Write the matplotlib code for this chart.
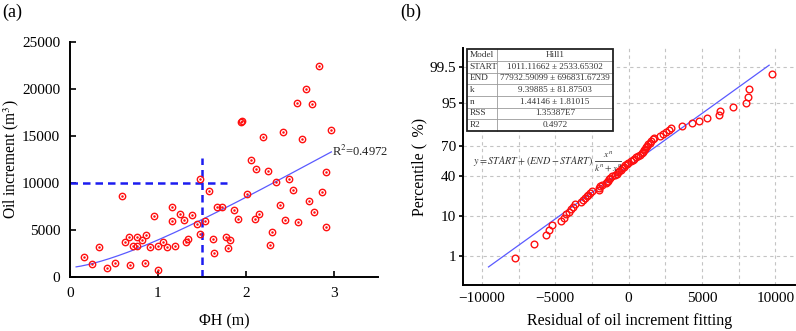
from statistics import NormalDist
import numpy as np
import matplotlib.pyplot as plt
from matplotlib.patches import Rectangle

plt.rcParams['font.family'] = ['Liberation Serif', 'DejaVu Serif']
plt.rcParams['mathtext.fontset'] = 'stix'

# %%
# panel (a): PhiH vs oil increment
phi_h = [0.158, 0.245, 0.332, 0.419, 0.509, 0.592, 0.623, 0.672, 0.679, 0.717,
         0.766, 0.766, 0.815, 0.860, 0.853, 0.906, 0.958, 1.000, 0.996, 1.057,
         1.102, 1.155, 1.155, 1.196, 1.245, 1.291, 1.313, 1.343, 1.389, 1.438,
         1.472, 1.483, 1.532, 1.577, 1.623, 1.634, 1.675, 1.725, 1.774, 1.819,
         1.796, 1.864, 1.909, 1.947, 1.958, 2.008, 2.057, 2.106, 2.113, 2.151,
         2.196, 2.249, 2.268, 2.294, 2.340, 2.381, 2.426, 2.438, 2.483, 2.536,
         2.581, 2.589, 2.634, 2.679, 2.721, 2.751, 2.774, 2.826, 2.868, 2.906,
         2.906, 2.962]
oil_inc = [2130, 1350, 3190, 990, 1520, 8650, 3690, 4290, 1310, 3300,
           4220, 3300, 3970, 4500, 1450, 3160, 6450, 3330, 710, 3690,
           3230, 7480, 5990, 3260, 6700, 6100, 3720, 4010, 6630, 5670,
           10390, 4540, 5990, 9150, 4080, 2550, 7480, 7410, 4290, 3940,
           3050, 7090, 6170, 16420, 16600, 8870, 12450, 6170, 11450, 6740,
           14860, 11280, 3400, 4750, 10110, 7700, 15430, 6060, 10460, 9290,
           18480, 5850, 14610, 19960, 8120, 18330, 6950, 22410, 9080, 11130,
           5320, 15600]

# Hill1 fit parameters (from the table)
fit_start = 1011.11662
fit_end = 77932.59099
fit_k = 9.39885
fit_n = 1.44146
fit_xmin, fit_xmax = 0.07, 2.97

# %%
# panel (b): sorted residuals for the normal probability plot
residuals = [-7770, -6450, -5650, -5450, -5240, -4610, -4430, -4280, -4100, -3950,
             -3800, -3670, -3240, -3120, -3000, -2870, -2760, -2640, -2510, -2050,
             -1990, -1920, -1850, -1560, -1500, -1440, -1370, -1250, -1140, -900,
             -800, -720, -630, -540, -440, -340, -220, -120, -20, 150,
             280, 380, 520, 640, 780, 880, 950, 1020, 1100, 1180,
             1270, 1350, 1420, 1500, 1650, 1750, 2150, 2350, 2560, 2730,
             2860, 3620, 4300, 4810, 5320, 6150, 6200, 7090, 7970, 8100,
             8230, 9750]
line_x = [-9550, 9570]
line_sigma = 3660.0
pct_ticks = [1, 10, 40, 70, 95, 99.5]

table_rows = [('Model', 'Hill1'),
              ('START', '1011.11662 \u00b1 2533.65302'),
              ('END', '77932.59099 \u00b1 696831.67239'),
              ('k', '9.39885 \u00b1 81.87503'),
              ('n', '1.44146 \u00b1 1.81015'),
              ('RSS', '1.35387E7'),
              ('R2', '0.4972')]

# %%
fig = plt.figure(figsize=(7.96, 3.31), dpi=100)

ax1 = fig.add_axes([0.0879, 0.1631, 0.387, 0.7109])
ax1.plot(phi_h, oil_inc, 'o', ms=4.6, mfc='none', mec='#ff1010', mew=1.0, zorder=3)
ax1.plot(phi_h, oil_inc, '.', ms=1.6, color='#ff1010', zorder=3)

xf = np.linspace(fit_xmin, fit_xmax, 200)
yf = fit_start + (fit_end - fit_start) * xf**fit_n / (fit_k**fit_n + xf**fit_n)
ax1.plot(xf, yf, color='#5a5aff', lw=0.9, zorder=2)

ax1.plot([0, 1.78], [10000, 10000], color='#1c1cf0', lw=1.8, ls=(0, (3, 2)))
ax1.plot([1.5, 1.5], [0, 12600], color='#1c1cf0', lw=1.8, ls=(0, (3, 2)))
ax1.text(2.98, 13300, 'R$^2$=0.4972', fontsize=9, va='center', ha='left', color='#222222')

ax1.set_xlim(0, 3.5)
ax1.set_ylim(0, 25000)
ax1.set_xticks([0, 1, 2, 3])
ax1.set_yticks([0, 5000, 10000, 15000, 20000, 25000])
for s in ['top', 'right']:
    ax1.spines[s].set_visible(False)
for s in ['left', 'bottom']:
    ax1.spines[s].set_linewidth(1.4)
ax1.tick_params(direction='in', length=4, width=1.2, labelsize=11, pad=7)
ax1.set_xlabel('\u03a6H (m)', fontsize=11.5)
ax1.set_ylabel('Oil increment (m$^3$)', fontsize=11.2)
ax1.xaxis.set_label_coords(0.5, -0.155)
ax1.yaxis.set_label_coords(-0.16, 0.5)
fig.text(0.003, 0.962, '(a)', fontsize=13, va='center', ha='left')

# %%
nd = NormalDist()
n = len(residuals)
pos = [(i + 1 - 0.375) / (n + 0.25) for i in range(n)]
z_pts = [nd.inv_cdf(p) for p in pos]

ax2 = fig.add_axes([0.582, 0.139, 0.4167, 0.716])
ax2.plot(residuals, z_pts, 'o', ms=4.8, mfc='none', mec='#ff1010', mew=1.0, zorder=3)
ax2.plot(line_x, [x / line_sigma for x in line_x], color='#5a5aff', lw=0.9, zorder=2)

ax2.set_xlim(-11270, 11330)
ax2.set_ylim(-3.077, 3.06)
ax2.set_xticks([-10000, -5000, 0, 5000, 10000])
ax2.set_xticks(np.arange(-10000, 10001, 2500), minor=True)
ax2.set_yticks([nd.inv_cdf(p / 100) for p in pct_ticks])
ax2.set_yticklabels([str(p) for p in pct_ticks])
ax2.grid(True, which='both', axis='x', color='#c4c4c4', lw=0.8, ls=(0, (3, 3)))
ax2.grid(True, which='major', axis='y', color='#c4c4c4', lw=0.8, ls=(0, (3, 3)))
ax2.set_axisbelow(True)
for s in ['top', 'right']:
    ax2.spines[s].set_visible(False)
for s in ['left', 'bottom']:
    ax2.spines[s].set_linewidth(1.4)
ax2.tick_params(which='minor', length=0)
ax2.tick_params(axis='y', direction='out', length=3, width=1.2, labelsize=11, pad=2)
ax2.tick_params(axis='x', direction='out', length=0, labelsize=11, pad=5)
ax2.set_xlabel('Residual of oil increment fitting', fontsize=11.5)
ax2.set_ylabel('Percentile (\u2009\u2009%)', fontsize=11.5)
ax2.xaxis.set_label_coords(0.5, -0.12)
ax2.yaxis.set_label_coords(-0.108, 0.5)
fig.text(0.503, 0.962, '(b)', fontsize=13, va='center', ha='left')

# parameter table, drawn cell by cell
tx0, ty0, tw, th = 0.012, 0.650, 0.440, 0.345
c0w = 0.205 * tw
rh = th / len(table_rows)
ax2.add_patch(Rectangle((tx0, ty0), tw, th, transform=ax2.transAxes,
                        fc='white', ec='none', zorder=5))
for i, (name, val) in enumerate(table_rows):
    yc = ty0 + th - (i + 0.5) * rh
    ax2.text(tx0 + 0.007, yc, name, transform=ax2.transAxes, fontsize=6.7,
             va='center', ha='left', color='#333333', zorder=7)
    ax2.text(tx0 + c0w + (tw - c0w) / 2, yc, val, transform=ax2.transAxes, fontsize=6.6,
             va='center', ha='center', color='#333333', zorder=7)
    if i > 0:
        yl = ty0 + th - i * rh
        ax2.plot([tx0, tx0 + tw], [yl, yl], transform=ax2.transAxes,
                 color='#9a9a9a', lw=0.6, zorder=6)
ax2.plot([tx0 + c0w, tx0 + c0w], [ty0, ty0 + th], transform=ax2.transAxes,
         color='#9a9a9a', lw=0.6, zorder=6)
ax2.add_patch(Rectangle((tx0, ty0), tw, th, transform=ax2.transAxes,
                        fill=False, ec='#222222', lw=1.3, zorder=8))

# Hill1 equation, fraction put together by hand so it stays readable
eq = ax2.text(0.029, 0.523, r'$y = START + (END - START)$',
              transform=ax2.transAxes, fontsize=7.3, va='center', ha='left', color='#333333')
fig.canvas.draw()
bb = eq.get_window_extent().transformed(ax2.transAxes.inverted())
aw, ah = ax2.bbox.width, ax2.bbox.height
fx = bb.x1 + 15 / aw
fy = (bb.y0 + bb.y1) / 2
ax2.text(fx, fy + 1.5 / ah, r'$x^n$', transform=ax2.transAxes, fontsize=6.8,
         ha='center', va='bottom', color='#333333')
ax2.text(fx, fy - 1.0 / ah, r'$k^n + x^n$', transform=ax2.transAxes, fontsize=6.8,
         ha='center', va='top', color='#333333')
ax2.plot([fx - 13 / aw, fx + 13 / aw], [fy + 0.3 / ah] * 2, transform=ax2.transAxes,
         color='#333333', lw=0.6)

plt.savefig('out.png', dpi=100)
